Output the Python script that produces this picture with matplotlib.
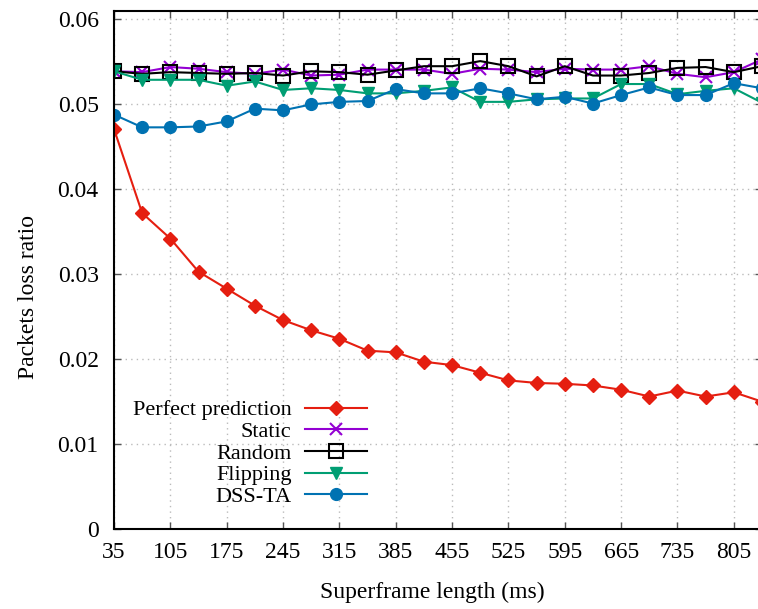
import numpy as np
import matplotlib.pyplot as plt
from matplotlib.ticker import FuncFormatter

plt.rcParams["font.family"] = ["Liberation Serif", "DejaVu Serif"]
plt.rcParams["font.size"] = 17

# superframe length (ms)
frame_ms = np.arange(35, 841, 35)

perfect = [0.0471, 0.0372, 0.0342, 0.0303, 0.0283, 0.0263, 0.0246, 0.0234,
           0.0224, 0.0210, 0.0208, 0.0197, 0.0193, 0.0184, 0.0175, 0.0172,
           0.0171, 0.0169, 0.0164, 0.0156, 0.0163, 0.0156, 0.0161, 0.0150]
static = [0.0539, 0.0538, 0.0544, 0.0542, 0.0538, 0.0536, 0.0541, 0.0534,
          0.0535, 0.0541, 0.0541, 0.0541, 0.0536, 0.0542, 0.0541, 0.0538,
          0.0542, 0.0541, 0.0541, 0.0545, 0.0536, 0.0532, 0.0538, 0.0553]
random_ = [0.0539, 0.0536, 0.0538, 0.0537, 0.0536, 0.0537, 0.0534, 0.0539,
           0.0538, 0.0535, 0.0540, 0.0545, 0.0545, 0.0551, 0.0545, 0.0533,
           0.0545, 0.0534, 0.0534, 0.0537, 0.0543, 0.0544, 0.0538, 0.0545]
flipping = [0.0539, 0.0529, 0.0529, 0.0529, 0.0522, 0.0527, 0.0517, 0.0519,
            0.0517, 0.0513, 0.0513, 0.0516, 0.0520, 0.0503, 0.0503, 0.0506,
            0.0507, 0.0507, 0.0524, 0.0524, 0.0512, 0.0516, 0.0519, 0.0502]
dss_ta = [0.0488, 0.0473, 0.0473, 0.0474, 0.0480, 0.0495, 0.0493, 0.0500,
          0.0503, 0.0504, 0.0518, 0.0513, 0.0513, 0.0519, 0.0513, 0.0506,
          0.0509, 0.0501, 0.0511, 0.0520, 0.0511, 0.0511, 0.0525, 0.0519]

fig = plt.figure(figsize=(7.58, 6.09), dpi=100)
ax = fig.add_axes([114 / 758, 1 - 529 / 609, 648 / 758, 518 / 609])

ax.plot(frame_ms, perfect, color="#e51e10", marker="D", ms=7.5, lw=1.5,
        label="Perfect prediction")
ax.plot(frame_ms, static, color="#9400d3", marker="x", ms=9, mew=1.5, lw=1.5,
        label="Static")
ax.plot(frame_ms, random_, color="black", marker="s", ms=10, mfc="none",
        mew=1.5, lw=1.5, label="Random")
ax.plot(frame_ms, flipping, color="#009e73", marker="v", ms=8.5, lw=1.5,
        label="Flipping")
ax.plot(frame_ms, dss_ta, color="#0072b2", marker="o", ms=8.5, lw=1.5,
        label="DSS-TA")

ax.set_xlim(35, 840)
ax.set_ylim(0, 0.061)
ax.set_xticks(np.arange(35, 806, 70))
ax.set_yticks(np.arange(0, 0.061, 0.01))
ax.yaxis.set_major_formatter(FuncFormatter(lambda v, p: f"{v:.2f}" if v else "0"))
ax.tick_params(direction="in", length=5, width=1, color="#555555",
               top=True, right=True, labelsize=17)
ax.tick_params(axis="x", pad=9)
ax.tick_params(axis="y", pad=11)
ax.grid(True, color="#bbbbbb", linestyle=(0, (1, 3)), lw=1)
for s in ax.spines.values():
    s.set_linewidth(1.5)

ax.set_xlabel("Superframe length (ms)", fontsize=17)
ax.set_ylabel("Packets loss ratio", fontsize=17)
ax.xaxis.set_label_coords((432 - 114) / 648, -(592 - 529) / 518)
ax.yaxis.set_label_coords(-(114 - 28) / 648, (529 - 297) / 518)
ax.xaxis.label.set_va("center")
ax.yaxis.label.set_va("center")

ax.legend(loc="lower right", bbox_to_anchor=(367 / 758, 1 - 507 / 609),
          bbox_transform=fig.transFigure, frameon=False, markerfirst=False,
          handlelength=2.8, labelspacing=0.05, borderpad=0, borderaxespad=0,
          handletextpad=0.6, fontsize=16)

fig.savefig("out.png", dpi=100)
